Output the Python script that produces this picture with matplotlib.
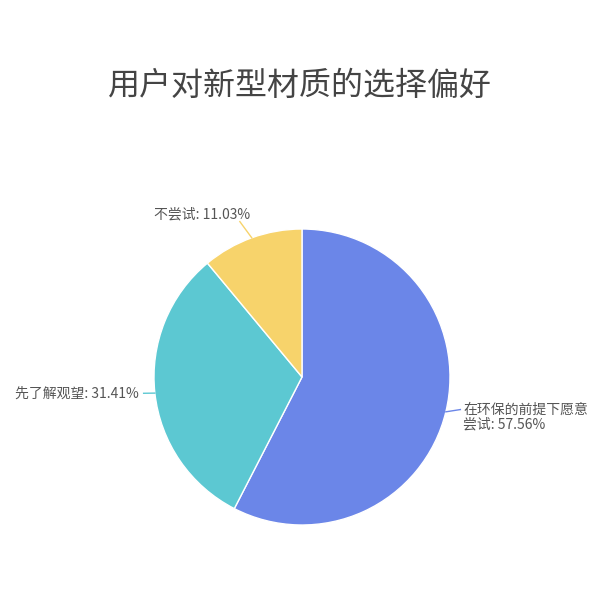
import matplotlib
matplotlib.use('Agg')
import matplotlib.pyplot as plt
import numpy as np

plt.rcParams['font.family'] = ['Noto Sans CJK SC', 'DejaVu Sans']

# data
labels = ['在环保的前提下愿意\n尝试', '先了解观望', '不尝试']
values = [57.56, 31.41, 11.03]
colors = ['#6b86e8', '#5cc8d2', '#f7d36b']
title = '用户对新型材质的选择偏好'

fig = plt.figure(figsize=(6, 6), dpi=100)
fig.text(0.5, 0.857, title, ha='center', va='center', fontsize=23, color='#444444')

ax = fig.add_axes([154 / 600, 75 / 600, 296 / 600, 296 / 600])
wedges, _ = ax.pie(values, colors=colors, startangle=90, counterclock=False,
                   radius=1, wedgeprops=dict(edgecolor='white', linewidth=1))
ax.set_xlim(-1, 1)
ax.set_ylim(-1, 1)
ax.set_aspect('equal')
ax.axis('off')

# label positions (text anchor) for each slice
text_pos = [(1.09, -0.27), (-1.1, -0.11), (-0.35, 1.1)]
text_ha = ['left', 'right', 'right']
line_end = [(1.07, -0.22), (-1.07, -0.11), (-0.42, 1.05)]

for w, lab, v, tp, ha, le in zip(wedges, labels, values, text_pos, text_ha, line_end):
    ang = np.deg2rad((w.theta1 + w.theta2) / 2)
    x, y = np.cos(ang), np.sin(ang)
    ax.plot([x, le[0]], [y, le[1]], color=w.get_facecolor(), lw=1, clip_on=False)
    ax.text(tp[0], tp[1], '%s: %.2f%%' % (lab, v), ha=ha, va='center',
            fontsize=10, color='#555555', linespacing=1.0, clip_on=False)

fig.savefig('out.png', dpi=100, facecolor='white')
